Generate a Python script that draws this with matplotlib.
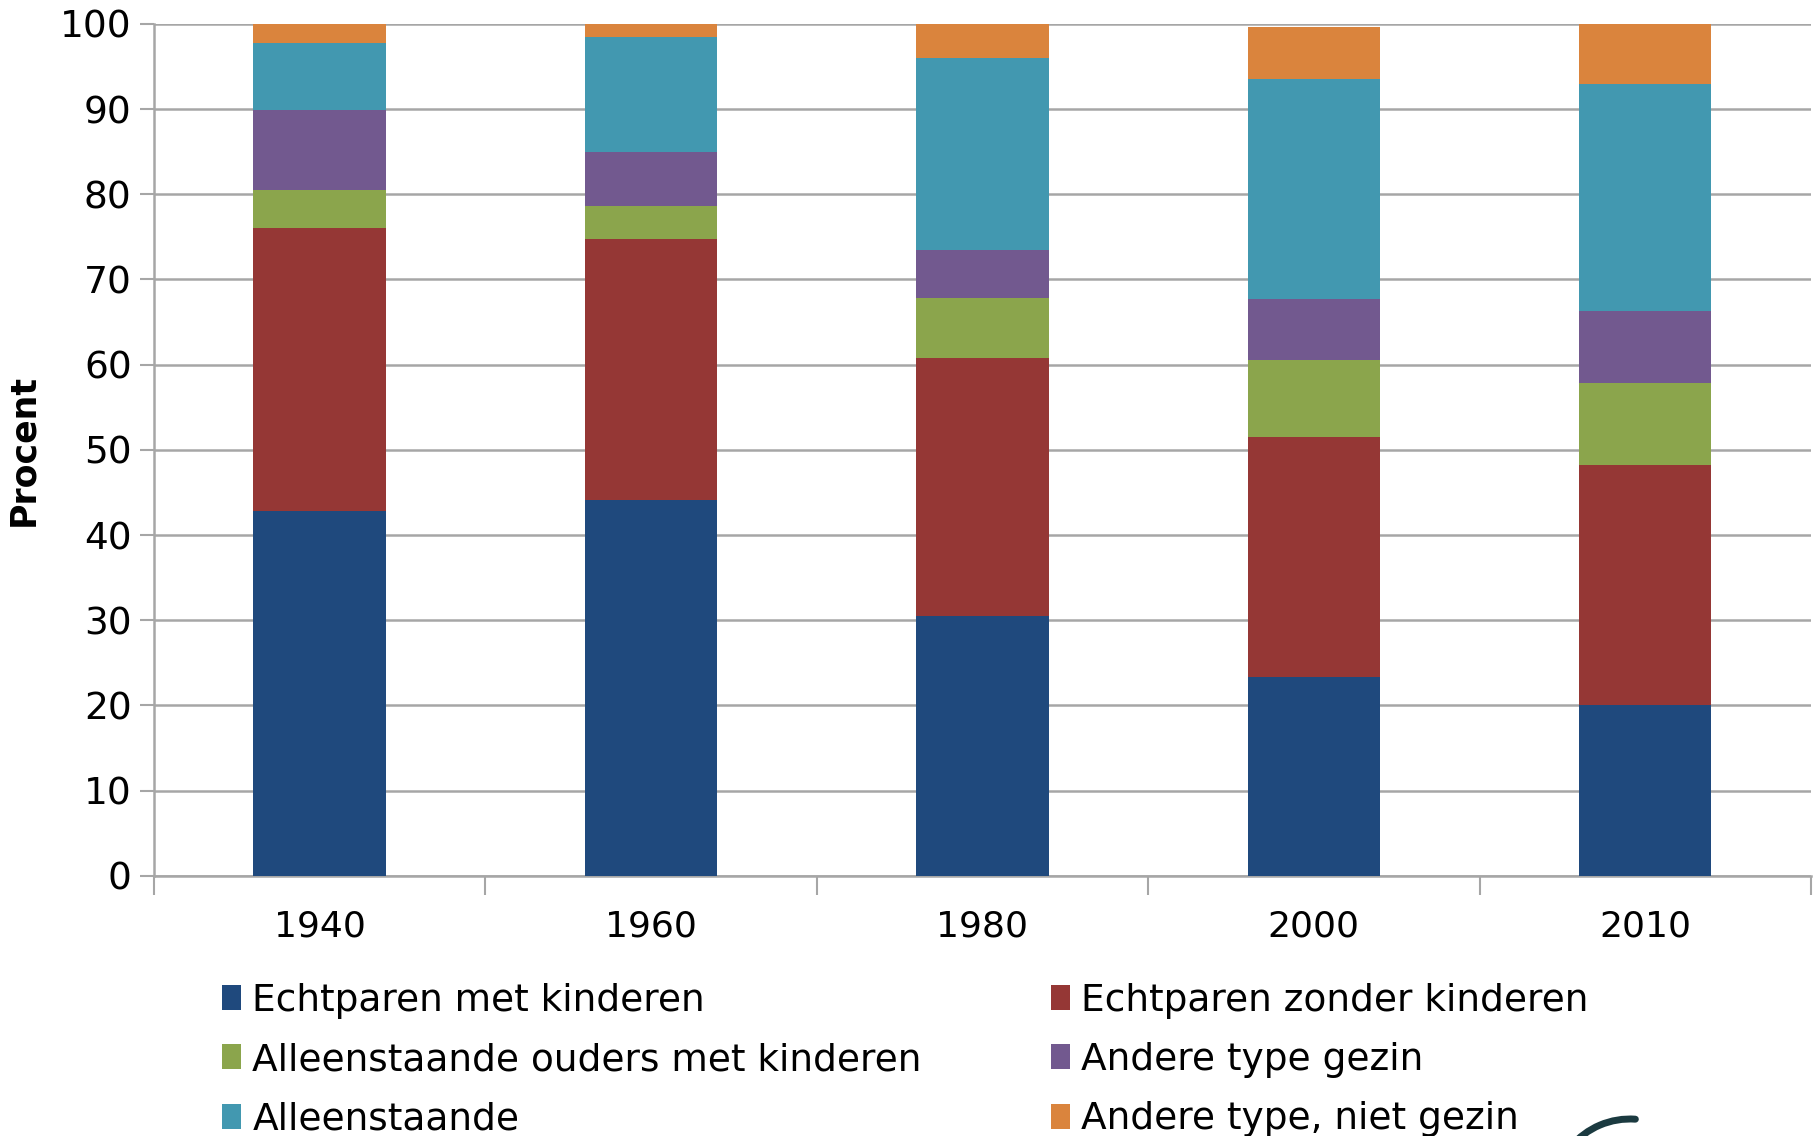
import matplotlib
matplotlib.use("Agg")
import matplotlib.pyplot as plt
import numpy as np
from matplotlib.patches import Patch, Arc

years = ["1940", "1960", "1980", "2000", "2010"]

echtparen_met = [42.8, 44.1, 30.5, 23.3, 20.0]
echtparen_zonder = [33.2, 30.6, 30.3, 28.2, 28.2]
alleenstaande_ouders = [4.5, 3.9, 7.0, 9.1, 9.6]
andere_gezin = [9.4, 6.4, 5.6, 7.1, 8.5]
alleenstaande = [7.9, 13.4, 22.6, 25.8, 26.6]
andere_niet_gezin = [2.2, 1.6, 4.0, 6.1, 7.1]

labels = ["Echtparen met kinderen", "Echtparen zonder kinderen",
          "Alleenstaande ouders met kinderen", "Andere type gezin",
          "Alleenstaande", "Andere type, niet gezin"]
colors = ["#1F497D", "#953735", "#8BA54C", "#72598F", "#4298B0", "#DA843D"]

series = [echtparen_met, echtparen_zonder, alleenstaande_ouders,
          andere_gezin, alleenstaande, andere_niet_gezin]

plt.rcParams['font.family'] = ['DejaVu Sans']

fig = plt.figure(figsize=(18.2, 11.36), dpi=100)
ax = fig.add_axes([0.0846, 0.229, 0.9104, 0.750])

x = np.arange(len(years))
bottom = np.zeros(len(years))
for vals, col in zip(series, colors):
    ax.bar(x, vals, width=0.4, bottom=bottom, color=col, zorder=3)
    bottom += np.array(vals)

ax.set_xlim(-0.5, len(years) - 0.5)
ax.set_ylim(0, 100)
ax.set_yticks(np.arange(0, 101, 10))
ax.yaxis.grid(True, color="#A6A6A6", linewidth=1.8, zorder=0)
ax.set_axisbelow(True)

ax.set_xticks(x)
ax.set_xticklabels(years)
ax.set_xticks(np.arange(-0.5, len(years), 1), minor=True)
ax.tick_params(axis="x", which="major", length=0, pad=24, labelsize=26)
ax.tick_params(axis="x", which="minor", length=14, width=1.5, color="#A6A6A6", direction="out")
ax.tick_params(axis="y", length=10, width=1.5, color="#A6A6A6", labelsize=27, pad=6)

for s in ["top", "right"]:
    ax.spines[s].set_visible(False)
for s in ["left", "bottom"]:
    ax.spines[s].set_color("#A6A6A6")
    ax.spines[s].set_linewidth(1.8)

ax.set_ylabel("Procent", fontsize=25, fontweight="bold", labelpad=14)

# legend in two columns, row order as in the original
order = [0, 2, 4, 1, 3, 5]
handles = [Patch(facecolor=colors[i], edgecolor="none") for i in order]
fig.legend(handles, [labels[i] for i in order], ncol=2, loc="upper left",
           bbox_to_anchor=(0.114, 0.148), frameon=False, fontsize=27,
           handlelength=0.5, handleheight=0.65, handletextpad=0.3,
           columnspacing=3.45, labelspacing=0.62, borderaxespad=0)

# bit of the logo cut off at the bottom edge
fig.add_artist(Arc((1630, -60), 154, 154, theta1=86, theta2=140,
                   transform=None, color="#1B3A40", linewidth=5,
                   capstyle="round"))

fig.savefig("out.png", dpi=100)
